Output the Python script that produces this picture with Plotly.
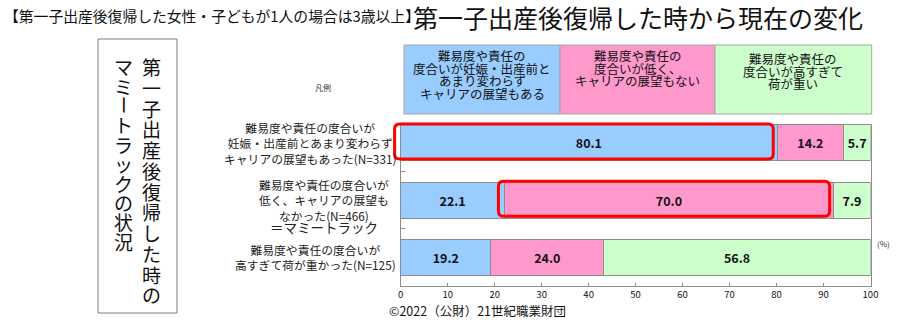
import plotly.graph_objects as go

W, H = 904, 330
FONT = "Noto Sans CJK JP"

# ---------------- data ----------------
series_names = [
    "難易度や責任の\n度合いが妊娠・出産前と\nあまり変わらず\nキャリアの展望もある",
    "難易度や責任の\n度合いが低く、\nキャリアの展望もない",
    "難易度や責任の\n度合いが高すぎて\n荷が重い",
]
series_colors = ["#99CCFF", "#FF99CC", "#CCFFCC"]
row_labels = [
    "難易度や責任の度合いが<br>妊娠・出産前とあまり変わらず<br>キャリアの展望もあった(N=331)",
    "難易度や責任の度合いが<br>低く、キャリアの展望も<br>なかった(N=466)",
    "難易度や責任の度合いが<br>高すぎて荷が重かった(N=125)",
]
row_notes = ["", "＝マミートラック", ""]
vals_same = [80.1, 22.1, 19.2]
vals_low = [14.2, 70.0, 24.0]
vals_heavy = [5.7, 7.9, 56.8]
x_ticks = list(range(0, 101, 10))
highlights = [(0, 0), (1, 1)]  # (row, series) outlined in red

title_small = "【第一子出産後復帰した女性・子どもが1人の場合は3歳以上】"
title_big = "第一子出産後復帰した時から現在の変化"
side_col_right = "第一子出産後復帰した時の"
side_col_left = "マミートラックの状況"
copyright_text = "©2022（公財）21世紀職業財団"

# ---------------- geometry ----------------
X0PX, X1PX = 400.7, 870.5
YTOP, YBOT = 124.0, 286.0
YR = [2.5, -0.33]


def px(x):
    return x / W


def py(y):
    return 1 - y / H


def dx2px(v):
    return X0PX + v / 100.0 * (X1PX - X0PX)


def dy2px(v):
    return YTOP + (v - YR[1]) / (YR[0] - YR[1]) * (YBOT - YTOP)


series_vals = [vals_same, vals_low, vals_heavy]
rows = list(range(len(row_labels)))

fig = go.Figure()
for name, vals, col in zip(series_names, series_vals, series_colors):
    fig.add_trace(go.Bar(
        y=rows, x=vals, orientation="h", name=name.replace("\n", ""),
        width=0.63,
        marker=dict(color=col, line=dict(color="#8C8C8C", width=1)),
        text=[f"{v:.1f}" for v in vals], textposition="inside",
        insidetextanchor="middle", textangle=0,
        textfont=dict(family=FONT, size=12.5, color="#111111", weight="bold"),
        hoverinfo="skip", showlegend=False,
    ))

shapes = []
annotations = []

# red rounded highlight rectangles
for r, s in highlights:
    start = sum(series_vals[k][r] for k in range(s))
    end = start + series_vals[s][r]
    x0, x1 = dx2px(start - 1.3), dx2px(end - 0.8)
    y0, y1 = dy2px(r - 0.33), dy2px(r + 0.28)
    rad = 5
    pts = [
        (x0 + rad, y0), (x1 - rad, y0), (x1, y0), (x1, y0 + rad),
        (x1, y1 - rad), (x1, y1), (x1 - rad, y1), (x0 + rad, y1),
        (x0, y1), (x0, y1 - rad), (x0, y0 + rad), (x0, y0), (x0 + rad, y0),
    ]
    P = [(px(a), py(b)) for a, b in pts]
    path = (f"M {P[0][0]},{P[0][1]} L {P[1][0]},{P[1][1]} Q {P[2][0]},{P[2][1]} {P[3][0]},{P[3][1]} "
            f"L {P[4][0]},{P[4][1]} Q {P[5][0]},{P[5][1]} {P[6][0]},{P[6][1]} "
            f"L {P[7][0]},{P[7][1]} Q {P[8][0]},{P[8][1]} {P[9][0]},{P[9][1]} "
            f"L {P[10][0]},{P[10][1]} Q {P[11][0]},{P[11][1]} {P[12][0]},{P[12][1]} Z")
    shapes.append(dict(type="path", xref="paper", yref="paper", path=path,
                       line=dict(color="#FF0000", width=3), layer="above"))

# legend header boxes
box_x = [404, 560, 715, 871.7]
for i, (name, col) in enumerate(zip(series_names, series_colors)):
    shapes.append(dict(type="rect", xref="paper", yref="paper",
                       x0=px(box_x[i]), x1=px(box_x[i + 1]), y0=py(114), y1=py(45),
                       fillcolor=col, line=dict(color="#A6A6A6", width=1), layer="below"))
    cx = (box_x[i] + box_x[i + 1]) / 2
    top = 58.5 if i == 2 else 55.5
    for j, line in enumerate(name.split("\n")):
        annotations.append(dict(xref="paper", yref="paper", x=px(cx), y=py(top + j * 12.6),
                                text=line, showarrow=False, xanchor="center", yanchor="middle",
                                font=dict(family=FONT, size=12.5, color="#111111")))

# row labels
label_cx = [310.0, 324.0, 315.0]
label_dy = [0.0, -0.01, 0.0]
for r in rows:
    annotations.append(dict(xref="paper", yref="y", x=px(label_cx[r]), y=r + label_dy[r],
                            text=row_labels[r], showarrow=False, xanchor="center", yanchor="middle",
                            align="center", font=dict(family=FONT, size=11.8, color="#222222")))
    if row_notes[r]:
        annotations.append(dict(xref="paper", yref="paper", x=px(324), y=py(227),
                                text=row_notes[r], showarrow=False, xanchor="center", yanchor="middle",
                                font=dict(family=FONT, size=13.5, color="#222222")))

# side vertical box
shapes.append(dict(type="rect", xref="paper", yref="paper", x0=px(98), x1=px(177),
                   y0=py(313), y1=py(39), line=dict(color="#7F7F7F", width=1),
                   fillcolor="rgba(0,0,0,0)"))
for col_text, cx, step in [(side_col_right, 151, 20.75), (side_col_left, 124, 19.4)]:
    for k, ch in enumerate(col_text):
        annotations.append(dict(xref="paper", yref="paper", x=px(cx), y=py(66.7 + k * step),
                                text=ch, showarrow=False, xanchor="center", yanchor="middle",
                                textangle=90 if ch == "ー" else 0,
                                font=dict(family=FONT, size=19, color="#111111")))

# titles and notes
annotations += [
    dict(xref="paper", yref="paper", x=px(2), y=py(15.5), text=title_small, showarrow=False,
         xanchor="left", yanchor="middle", font=dict(family=FONT, size=14.8, color="#111111")),
    dict(xref="paper", yref="paper", x=px(411), y=py(17), text=title_big, showarrow=False,
         xanchor="left", yanchor="middle", font=dict(family=FONT, size=25, color="#111111")),
    dict(xref="paper", yref="paper", x=px(323), y=py(88), text="凡例", showarrow=False,
         xanchor="center", yanchor="middle", font=dict(family=FONT, size=8, color="#333333")),
    dict(xref="paper", yref="paper", x=px(883), y=py(243), text="(%)", showarrow=False,
         xanchor="center", yanchor="middle", font=dict(family=FONT, size=8, color="#333333")),
    dict(xref="paper", yref="paper", x=px(387), y=py(310), text=copyright_text, showarrow=False,
         xanchor="left", yanchor="middle", font=dict(family=FONT, size=12.5, color="#111111")),
]

fig.update_layout(
    width=W, height=H, margin=dict(l=0, r=0, t=0, b=0, autoexpand=False),
    paper_bgcolor="white", plot_bgcolor="white",
    barmode="stack", bargap=0.37,
    uniformtext=dict(minsize=12, mode="show"),
    shapes=shapes, annotations=annotations,
    xaxis=dict(domain=[X0PX / W, X1PX / W], range=[0, 100], tickvals=x_ticks,
               ticks="inside", ticklen=3, tickcolor="#8C8C8C",
               showline=True, linecolor="#8C8C8C", linewidth=1, showgrid=False, zeroline=False,
               tickfont=dict(family=FONT, size=9.5, color="#111111"), fixedrange=True),
    yaxis=dict(domain=[1 - YBOT / H, 1 - YTOP / H], range=YR, tickvals=[0.5, 1.5],
               ticks="inside", ticklen=4, tickcolor="#8C8C8C", showticklabels=False,
               showline=True, mirror=True, linecolor="#8C8C8C", linewidth=1,
               showgrid=False, zeroline=False, fixedrange=True),
)

fig.write_html("out.html")
